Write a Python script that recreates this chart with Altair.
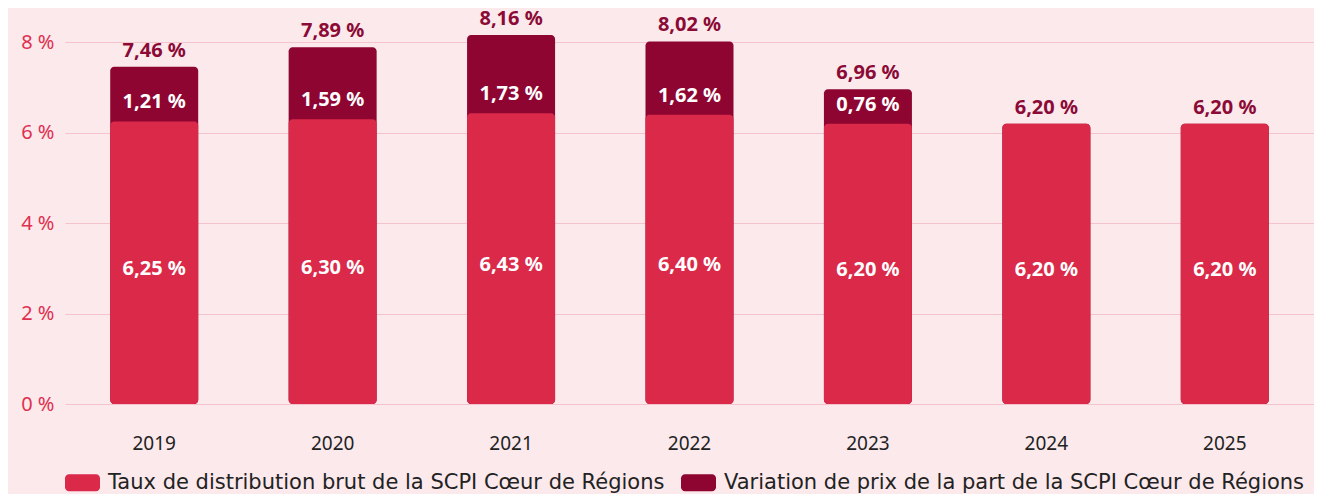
import altair as alt
import pandas as pd

years = ["2019", "2020", "2021", "2022", "2023", "2024", "2025"]
distribution = [6.25, 6.30, 6.43, 6.40, 6.20, 6.20, 6.20]
variation = [1.21, 1.59, 1.73, 1.62, 0.76, 0.0, 0.0]
totals = [7.46, 7.89, 8.16, 8.02, 6.96, 6.20, 6.20]
series_names = [
    "Taux de distribution brut de la SCPI Cœur de Régions",
    "Variation de prix de la part de la SCPI Cœur de Régions",
]
y_ticks = [0, 2, 4, 6, 8]

BG = "#FBE9EC"
LIGHT = "#DB2949"
DARK = "#8E0532"
FONT = "Noto Sans"
LEGEND_FONT = "DejaVu Sans"

df = pd.DataFrame({"year": years, "dist": distribution, "var": variation, "total": totals})

ROUNDED = ("M-0.77,-0.486 L0.77,-0.486 A0.23,0.23 0 0 1 1,-0.256 L1,0.256 "
           "A0.23,0.23 0 0 1 0.77,0.486 L-0.77,0.486 A0.23,0.23 0 0 1 -1,0.256 "
           "L-1,-0.256 A0.23,0.23 0 0 1 -0.77,-0.486 Z")

x = alt.X("year:N", title=None,
          scale=alt.Scale(paddingInner=0.51, paddingOuter=0.255),
          axis=alt.Axis(labelAngle=0, ticks=False, domain=False, labelPadding=30,
                        labelFontSize=19, labelColor="#222222", labelFont=FONT, grid=False))
yscale = alt.Scale(domain=[0, 8.45], nice=False)
yaxis = alt.Axis(values=y_ticks, labelExpr="datum.value + ' %'", ticks=False, domain=False,
                 labelFontSize=20, labelColor="#E0304F", labelFont=FONT, labelPadding=11,
                 grid=True, gridColor="#F4C3CC", gridWidth=1)

color = alt.Color("series:N",
                  scale=alt.Scale(domain=series_names, range=[LIGHT, DARK]),
                  legend=alt.Legend(title=None, orient="none", legendX=0, legendY=443,
                                    direction="horizontal", columns=2, columnPadding=16,
                                    symbolType=ROUNDED, symbolSize=1225, symbolStrokeWidth=0,
                                    symbolOpacity=1, labelOffset=8,
                                    labelFontSize=21, labelFont=LEGEND_FONT, labelColor="#222222",
                                    labelLimit=800))

base = alt.Chart(df).encode(x=x)

dark_bars = base.transform_calculate(series=f"'{series_names[1]}'").mark_bar(
    cornerRadius=4, size=88).encode(
    y=alt.Y("total:Q", scale=yscale, axis=yaxis, title=None), y2=alt.datum(0), color=color)

light_bars = base.transform_calculate(series=f"'{series_names[0]}'").mark_bar(
    cornerRadius=4, size=88).encode(
    y=alt.Y("dist:Q", scale=yscale), y2=alt.datum(0), color=color)

fmt = "replace(format({f}, '.2f'), '.', ',') + ' %'"

light_labels = base.transform_calculate(
    lbl=fmt.format(f="datum.dist"), mid="datum.dist / 2").mark_text(
    color="white", fontWeight="bold", fontSize=20, font=FONT, baseline="middle", dy=6).encode(
    y=alt.Y("mid:Q", scale=yscale), text="lbl:N")

dark_labels = base.transform_filter("datum.var > 0").transform_calculate(
    lbl=fmt.format(f="datum.var")).mark_text(
    color="white", fontWeight="bold", fontSize=20, font=FONT, baseline="middle", dy=-19).encode(
    y=alt.Y("dist:Q", scale=yscale), text="lbl:N")

top_labels = base.transform_calculate(
    lbl=fmt.format(f="datum.total")).mark_text(
    color="#8B0A36", fontWeight="bold", fontSize=20, font=FONT, baseline="middle", dy=-16).encode(
    y=alt.Y("total:Q", scale=yscale), text="lbl:N")

chart = alt.layer(dark_bars, light_bars, light_labels, dark_labels, top_labels).properties(
    width=1249, height=382,
    autosize=alt.AutoSizeParams(type="none"),
    padding={"left": 57, "top": 14, "right": 0, "bottom": 90},
    background=BG,
).configure_view(strokeWidth=0)

chart.save("out.html", embed_options={"renderer": "svg", "actions": False})
